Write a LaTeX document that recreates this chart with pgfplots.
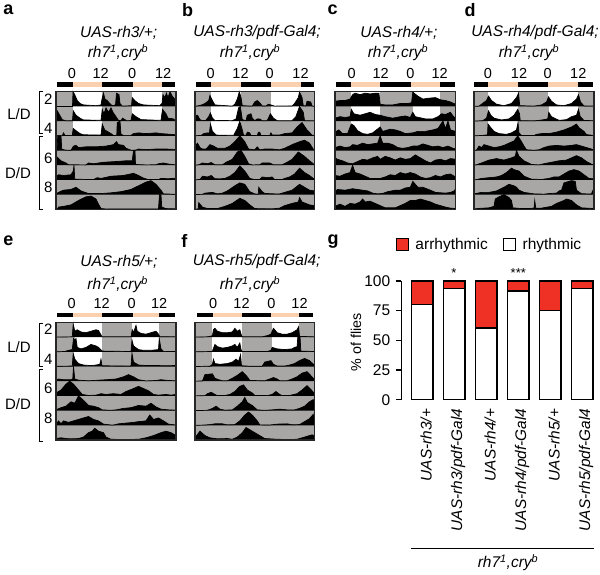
\documentclass[border=0pt]{standalone}
\usepackage{fontspec}
\setmainfont{Liberation Sans}
\usepackage{pgfplots}
\pgfplotsset{compat=1.18}
\definecolor{actgrey}{HTML}{A9A6A6}
\definecolor{peach}{HTML}{FAD0AE}
\definecolor{arrred}{HTML}{EE3124}
\newcommand{\fs}[1]{\fontsize{#1}{#1}\selectfont}
% one row of an actogram: base level, then (hour, height 0-10)
\newcommand{\actrow}[2]{\addplot[fill=black,draw=black,line width=.7pt,y filter/.expression={y+#1}] coordinates {(0,0) #2 (48,0)};}
% lights-on part of a row
\newcommand{\lit}[3]{\addplot[fill=white,draw=none,y filter/.expression={y+#1}] coordinates {(#2,0)(#2,10)(#3,10)(#3,0)};}
% light/dark bar above a panel
\newcommand{\daybar}[6]{%
  \addplot[fill=black,draw=none] coordinates {(#1,83.5)(#1,86.3)(#6,86.3)(#6,83.5)};
  \addplot[fill=peach,draw=none] coordinates {(#2,83.5)(#2,86.3)(#3,86.3)(#3,83.5)};
  \addplot[fill=peach,draw=none] coordinates {(#4,83.5)(#4,86.3)(#5,86.3)(#5,83.5)};}
\pgfplotsset{
  acto/.style={
    scale only axis, height=117.6pt, xmin=0, xmax=48, ymin=0, ymax=80,
    anchor=south west, clip=false, axis on top,
    axis background/.style={fill=actgrey},
    axis line style={line width=1.1pt,black!85},
    major tick length=0pt, ytick=\empty,
    xticklabel pos=top, xticklabels={0,12,0,12},
    xticklabel style={font=\fs{14.5},yshift=10pt},
    yticklabel style={font=\fs{15},xshift=0pt},
  },
  rowticks/.style={ytick={15,35,55,75}, yticklabels={8,6,4,2}},
}
\begin{document}
\begin{tikzpicture}
\useasboundingbox (0pt,0pt) rectangle (600pt,574pt);

% ---- a
\begin{axis}[acto,rowticks,at={(56pt,364.7pt)},width=120pt,xtick={6.4,17.9,30.5,42.9}]
\lit{70}{6.7}{18.4}\lit{70}{30.3}{42.4}\lit{60}{6.7}{18.4}\lit{60}{30.3}{42.4}\lit{50}{6.7}{18.4}
\actrow{70}{(6.6,0)(6.8,10)(7.5,8)(8.5,4)(9.6,2)(11,1)(16,.5)(18,1)(18.4,5)(19,9)(19.6,5)(20.5,4)(21.5,2)(22.5,.5)(23.8,1)(24.2,9)(25.2,8)(25.6,2)(26.5,.2)(30.2,.5)(30.5,6)(31.5,4)(33,2)(35,1)(41.5,.5)(42.4,2)(42.8,8)(43.5,6)(44.2,9)(44.8,6)(45.6,10)(46.5,7)(47.5,5)(48,3)}
\actrow{60}{(0,4)(0.5,7)(1.5,4)(2.5,1)(4,.2)(6.6,.3)(6.9,7)(8,4)(9.6,2)(11,.8)(18,.5)(18.5,8)(19.2,5)(20,9)(21,6)(22,9)(22.8,6)(24,3)(25,.5)(26,.3)(26.6,2)(27.6,1)(28.5,.2)(30,.5)(30.5,5)(32,3)(34,1)(42,.5)(42.6,8)(44,5)(44.8,2)(47,1.5)}
\actrow{50}{(2.5,0)(3,2)(3.6,.2)(6.5,.3)(6.9,5)(8,3.5)(9.6,1.5)(11,.7)(18,.5)(18.5,8)(19.5,4)(20.5,3)(22,1.5)(23,.2)(24.3,.3)(24.5,9)(25.6,10)(26,1)(27,.3)(30,.3)(31,1.5)(33,2)(36,1.5)(40,2)(42,1.5)(46,1)(48,.7)}
\actrow{40}{(.4,0)(.7,10)(2,10)(2.3,1)(3.5,.3)(6,.2)(7,3)(8,3.5)(9,2)(12,2.5)(16,2.5)(20,3)(23,4)(24.2,6)(25,4)(27,3.5)(28,1.5)(30,.2)(32,.3)(33,1)(36,.6)(40,1)(44,1)(48,.7)}
\actrow{30}{(0,4)(.5,5.5)(2,3)(4,1.5)(5,.3)(12,.2)(13,1.5)(15,1)(19,2)(24,2.5)(28,3)(30.5,3)(31,10)(31.6,10)(31.8,.5)(36,.2)(40,.3)(41,1)(43,1.5)(45,.8)(48,.2)}
\actrow{20}{(0,2)(1,3.5)(3,3)(6,3.5)(6.9,6)(7.2,10)(7.5,.5)(15,.2)(16.5,1.5)(18,1)(22,2.5)(27,3)(31,4.5)(33,3)(35,1.2)(37,.2)(41,.3)(42,1)(45,.8)(48,1.2)}
\actrow{10}{(0,.5)(1,1.5)(3,3)(6,3.5)(8,5)(10,2.5)(13,.7)(18,.7)(22,1.2)(26,2)(30,3.5)(33,6)(36,8.5)(38,9.5)(40,7)(42,3)(43,.5)(48,.2)}
\actrow{0}{(.5,0)(1,1.5)(3,2)(6,3)(9,6)(12,8.5)(14,9)(16,7)(17,3.5)(18,.5)(20,.2)(41,.3)(41.4,10)(42,10)(42.3,1.5)(44,.5)(48,.3)}
\daybar{.4}{6.6}{18.4}{30.8}{42.4}{47.5}
\end{axis}

% ---- b
\begin{axis}[acto,at={(195pt,364.7pt)},width=119.5pt,xtick={6.3,18.3,30,42.4}]
\lit{70}{6.4}{18.4}\lit{70}{30.5}{42.4}\lit{60}{6.4}{18.4}\lit{60}{30.5}{42.4}\lit{50}{6.4}{18.4}
\actrow{70}{(2.7,1)(4,2)(5.5,4)(6,7.5)(7,4)(8,1)(15,.2)(16,1.5)(17,5)(17.8,10)(18.5,6)(19,.5)(23,.2)(24,3)(25,4)(26,2.5)(27,.3)(28.5,.3)(29.5,1.5)(30.5,1)(32,.2)(39,.3)(40,2)(41.5,6)(42,10)(43,6)(43.5,.5)(44.5,.3)(45,3.5)(46.5,3)(47,.3)}
\actrow{60}{(0,3.5)(1,4)(2,1)(3,.3)(4.3,.5)(5.5,3)(6.2,5.5)(7,2)(8,.5)(15,.3)(16.5,1.5)(17.5,9)(18.2,10)(19,1)(20.5,.3)(21,4)(22.5,5)(23,2)(24,.3)(25,1.5)(26,1.5)(27,.3)(29,.3)(30.3,5)(31.5,2)(33,.3)(39,.3)(40.5,3)(42,10)(43.5,6)(44,.3)(48,.2)}
\actrow{50}{(2.5,.3)(3.5,1.5)(5,2)(5.8,2)(6.2,8)(7,3)(8.5,.5)(15.5,.3)(17,5)(18,10)(19,4)(19.5,.5)(20.5,.3)(21,2.5)(22,2)(22.5,.2)(25,.3)(25.5,2.5)(26,2.5)(26.5,.2)(30,.2)(30.5,2)(31,.5)(34,.5)(36,1.5)(39,2)(41,6)(43,9)(45,4)(47,.5)(48,.2)}
\actrow{40}{(0,3)(1,5)(2,2)(3,1)(4.5,1)(6,4)(7.5,3)(9,1.5)(12,1.5)(14,3)(16,6)(18,10)(20,6)(21.5,1)(24,.5)(25,2.5)(26,.5)(28,1)(31,1)(34,.5)(36,1.5)(39,4)(42,6)(44,7)(46,5)(47.5,1)}
\actrow{30}{(1.5,.3)(3,1.5)(5,1)(6.5,1.8)(8,.3)(11,.3)(12.5,2)(15,4)(17,9)(18.5,10)(20,6)(21.5,1)(23,.2)(26,.3)(27,1.5)(30,1.5)(31.5,.3)(35,.3)(37,2)(39,4)(41.5,9)(44,6)(46,3)(47.5,1)}
\actrow{20}{(2,.3)(3,2.5)(5,2)(6.5,3)(8,.8)(10,.7)(12,1)(14,2.5)(16,5)(18,9.5)(20,6)(22,1)(24,.2)(26,.3)(27,2)(29,1.5)(31,2)(32,.3)(35,.3)(36,1)(38,2)(40,4)(42,8)(44,5)(46,3)(47.5,1)}
\actrow{10}{(3,.2)(4,1)(7,1.5)(9,.5)(11,1)(13,2.5)(16,6)(18,8)(20,7)(22,2)(24,.5)(25.4,.2)(25.6,5)(27,2)(28,.8)(32,.5)(34,.5)(36,1.5)(39,3)(42,7)(44,5)(46,3)(48,2.5)}
\actrow{0}{(1.3,.3)(1.5,4.5)(3,1.5)(5,.5)(9,.5)(12,2)(15,4)(18,7.5)(20,6)(22,3)(24,.5)(31,.3)(34,.8)(36,2.5)(39,4)(41.5,5)(42,8)(43,5)(46,3)(48,2.5)}
\daybar{.5}{6.4}{18.3}{30.5}{42.4}{47.9}
\end{axis}

% ---- c
\begin{axis}[acto,at={(335pt,364.7pt)},width=120.5pt,xtick={6.6,18.2,30,41.7}]
\lit{70}{6.4}{18}\lit{70}{31}{42}\lit{60}{6.4}{18}\lit{60}{31}{42}\lit{50}{6.4}{18}
\actrow{70}{(0,3.5)(2,4)(4,4)(6,5)(7,8)(8,9)(10,8)(12,9)(14,8.5)(16,9)(17.5,9)(18,1.5)(20,1)(23,1)(26,2)(29,2)(30.5,2.5)(31,10)(31.5,9)(33,7)(35,5)(37,5.5)(40,6)(42,4.5)(44,4)(46,3)(48,1.5)}
\actrow{60}{(0,2)(2,3)(4,2.5)(6,3)(6.5,8)(7.5,5)(10,4)(12,5)(14,6)(16,4.5)(18,4)(20,3)(23,2)(26,3)(28,3.5)(30,2.5)(31,6)(32,3)(36,1.5)(39,1.5)(41,3)(42.5,5)(44,4.5)(46,6)(47,3.5)(48,2)}
\actrow{50}{(0,2.5)(1.5,4)(3,1.5)(5,1.5)(6.5,8)(7.5,7)(9,3.5)(11,1.5)(13,1)(15,2)(16.5,4)(18,6)(19,3)(22,4.5)(24,4)(26,3)(28,1.5)(31,2)(33,3)(36,3)(39,4)(41,5)(43,10)(44,5)(45,10)(46,4)(48,3)}
\actrow{40}{(0,2)(2,3)(4,2)(6,2.5)(7,4)(9,3.5)(11,5)(13,4)(15,4.5)(17,5)(18,10)(19,5)(21,5)(23,4)(25,2)(27,1.5)(29,2)(31,3)(33,3)(35,4.5)(37,3.5)(39,2.5)(41,3)(43,2)(45,3)(47,1.5)(48,1)}
\actrow{30}{(0,5)(1,4)(3,3)(5,1.5)(7,1)(9,2.5)(11,4)(13,3.5)(15,5)(17,6)(18,4)(20,6)(22,5)(24,3.5)(26,5)(28,4)(30,4.5)(32,7)(34,5)(36,3)(38,1.5)(40,3.5)(42,4)(44,3)(46,4.5)(48,4)}
\actrow{20}{(0,3)(2,2.5)(4,4)(6,5)(7,10)(8,5)(10,4)(12,2.5)(14,1)(18,1)(20,2)(22,3.5)(24,3)(26,5)(28,4)(30,5)(32,4)(34,2)(36,1)(38,1.5)(40,3)(42,2)(44,3.5)(46,4)(48,2)}
\actrow{10}{(0,2)(1,3.5)(4,3)(7,4)(9,3.5)(11,3)(13,2.5)(15,1)(17,.5)(19,.8)(21,2)(24,3)(26,3)(28,4.5)(30,5)(31,9)(33,5)(35,5)(38,3)(40,1.5)(44,1)(46,1.5)(47.5,2.5)(48,4)}
\actrow{0}{(0,2)(2,3.5)(4,2)(6,4)(8,3.5)(10,5)(11,7)(12,5)(14,5.5)(16,4)(18,2.5)(20,1)(24,1)(26,2.5)(28,4)(30,6)(32,6)(34,7)(36,6)(38,5)(40,3.5)(42,2.5)(44,1.5)(46,.8)(48,.5)}
\daybar{.2}{6.4}{18}{30.3}{42}{47.7}
\end{axis}

% ---- d
\begin{axis}[acto,at={(474pt,364.7pt)},width=120pt,xtick={5.6,18,29.5,41.7}]
\lit{70}{5.7}{17.5}\lit{70}{29.7}{41.5}\lit{60}{5.7}{17.5}\lit{60}{29.9}{41.5}\lit{50}{5.7}{17.5}
\actrow{70}{(2,.2)(3,1.5)(5,4)(5.8,7)(7,4)(9,1.5)(12,.5)(15,2)(17,6)(17.8,9)(18.3,.5)(24,.2)(27,1)(29,3)(29.8,6.5)(31,3.5)(33,1)(36,.5)(39,2)(41,5)(41.8,8)(42.6,3)(44,.3)(48,.2)}
\actrow{60}{(3.5,.3)(5,2)(5.8,7)(6.7,4)(8,2)(11,.8)(14,1.5)(16,4)(17.5,8)(18.2,5)(18.5,.3)(24,.2)(26,.5)(28,1)(29.5,1.5)(29.9,6)(31,3)(34,.5)(37,1)(39,3)(41,4)(41.8,8)(42.5,3)(44,.4)(48,.3)}
\actrow{50}{(3,.2)(4.5,.5)(5.4,.5)(5.6,8)(6.5,6)(8,3)(10,1.5)(13,1)(15,2)(17,4)(17.6,9)(18,2)(19,.2)(24,.2)(25,1)(27,1.5)(30,1.5)(33,2.5)(36,4)(39,6)(41,8)(42,5.5)(44,3)(45,.8)(48,.2)}
\actrow{40}{(1,.3)(2,3)(3,2)(4,4)(6,3)(8,2)(10,2.5)(12,3.5)(14,5)(16,6.5)(17.5,10)(19,6)(20,3)(21,.5)(24,.2)(26,.5)(28,2)(30,3)(33,3.5)(36,3)(39,3.5)(41,4)(44,2.5)(47,1)(48,.3)}
\actrow{30}{(1,.3)(3,1.5)(6,3.5)(9,4.5)(12,3.5)(15,5)(16.5,6)(17,10)(18,6)(20,3)(23,.5)(26,.2)(28,1)(31,2)(34,3)(37,3.5)(39,5)(41,6.5)(43,5)(45,2.5)(47,.7)(48,.3)}
\actrow{20}{(1,.2)(3,1)(6,1.5)(9,2)(11,3)(13,5)(15,8)(16,7)(18,6)(20,2.5)(23,.5)(27,.3)(30,1)(32,2)(34,2)(36,4)(38,6)(40,7)(42,6)(44,3.5)(46,1)(48,.7)}
\actrow{10}{(0,.5)(3,1.5)(6,1.5)(9,2.5)(12,5)(14,7)(16,6)(17,5)(18,3)(20,1.5)(24,.5)(28,.3)(30,.7)(33,1)(34,2.5)(35,3)(36,8)(39,9.5)(40.5,9)(41,3)(43,.6)(47,.4)(47.4,2.5)(47.8,.5)}
\actrow{0}{(0,.3)(3,.7)(6,1)(8,2)(8.5,7)(10,8.5)(12,10)(14,8)(15,6)(15.5,1)(19,.5)(22,.5)(24,.8)(24.3,6)(24.7,.8)(27,.8)(31,2)(33,4)(36,6)(37,7)(39,6)(41,3)(43,1)(48,.5)}
\daybar{-.1}{5.7}{17.5}{29.7}{41.5}{47.7}
\end{axis}

% ---- e
\begin{axis}[acto,rowticks,at={(56pt,134pt)},width=120pt,xtick={6.3,18.3,30.3,41.3}]
\lit{70}{6.7}{18.3}\lit{70}{30.3}{41.3}\lit{60}{7.6}{18.3}\lit{60}{30.3}{41.2}\lit{50}{6.9}{18.3}
\actrow{70}{(6.5,.2)(6.9,9)(7.5,4)(8.5,5)(10,3.5)(12,3)(14,4)(16,5)(17,4.5)(18,1.5)(18.4,.2)(30,.2)(30.5,5)(31,3)(32,8)(32.5,4)(34,2.5)(36,2)(38,3)(40,4)(41,2)(41.5,.3)(48,.2)}
\actrow{60}{(3.5,.2)(5,1)(6.5,1.5)(7,9)(7.4,8)(8,9)(8.5,3)(10,2)(12,3)(14,5)(16,4)(17,3)(18.5,.5)(30,.2)(30.4,8)(31,4)(33,1.5)(35,1)(38,1)(41,1.5)(41.3,9)(42,2)(43,.3)(48,.2)}
\actrow{50}{(0,.2)(6.5,.3)(6.9,9)(7.5,5)(9,2)(11,1)(14,.6)(16,1)(17.5,1.5)(18,5)(18.4,.5)(30,.3)(30.4,9)(31,3)(33,1)(36,.7)(40,.7)(44,.5)(48,.7)}
\actrow{40}{(0,.3)(1,1.5)(3,1)(6,1)(6.7,1.5)(7,10)(7.5,1.5)(9,.7)(13,.3)(17,.7)(20,1)(24,1.5)(27,3)(29,4.5)(31,3)(33,1)(36,.2)(40,.5)(42,1)(45,.5)(48,.3)}
\actrow{30}{(0,2)(2,4)(4,8)(5.5,10)(7,8)(9,4)(10.5,1)(13,.3)(16,.5)(18,1.5)(20,1)(23,1.5)(26,1)(28,3)(31,5)(33,6.5)(35,5)(37,3.5)(39,1)(41,.5)(44,1)(46,.5)(48,1)}
\actrow{20}{(0,.5)(2,2)(4,3)(6,6)(7.5,5)(9,10)(11,7)(13,3.5)(15,3)(17,2)(18.5,.5)(22,.2)(24,.5)(27,1.5)(30,2)(33,3.5)(36,3)(38,5)(40,2.5)(42,1)(45,.5)(48,.3)}
\actrow{10}{(0,.3)(1,3)(2,1)(3,3)(5,2)(7,3)(9,4)(11,5)(13,6)(15,4)(17,3)(19,.8)(22,.2)(23,.2)(25,1)(28,1.5)(31,2)(33,2.5)(36,3)(37.5,7)(39,4)(41,5)(43,3)(45,.8)(48,.2)}
\actrow{0}{(0,1)(2,1.5)(4,1)(6,.8)(9,1)(11,2)(13,5)(14.5,6)(15.5,8)(17,6)(19,5)(20,2)(22,.5)(28,.3)(33,.5)(36,1.5)(39,3)(42,5)(44,6)(46,5)(48,3)}
\daybar{.4}{6.9}{18.3}{30.9}{41.3}{47.7}
\end{axis}

% ---- f
\begin{axis}[acto,at={(195pt,134pt)},width=119.5pt,xtick={7.3,18.7,30.7,42}]
\lit{70}{7}{18.7}\lit{70}{30.8}{41.8}\lit{60}{7}{18.7}\lit{60}{30.8}{41.8}\lit{50}{7}{18.7}
\actrow{70}{(5,.2)(6,.5)(7,1)(7.4,5)(8,6)(9,4)(11,3)(13,3)(15,3.5)(16,6)(17,4)(18,5)(18.7,1)(19,.2)(27,.2)(29,1)(30.5,2)(31.5,6)(33,3)(35,2)(37,2)(39,3)(41,5)(41.6,7)(42,.5)(48,.2)}
\actrow{60}{(7,.2)(7.2,1.5)(8,5)(9,3.5)(11,2.5)(13,3)(15,4)(16,5)(17,3)(18,6)(18.5,1.5)(19,.2)(29,.2)(30.5,1)(31,3)(33,2)(36,1.5)(39,2)(40,3)(41,3.5)(41.3,10)(42.2,10)(42.5,.5)(48,.2)}
\actrow{50}{(6,.2)(7,1.5)(7.4,5)(8,2)(10,1.5)(13,2)(15,3)(16.5,5)(17.5,3.5)(18.3,8)(18.7,.5)(22,.2)(27,.2)(28,3)(30.5,4)(31.5,1.5)(33,.3)(36,.3)(38,1)(40,2)(42,4)(44,5.5)(46,4)(48,.8)}
\actrow{40}{(3,.2)(4,4.5)(7,5)(8,2)(9.5,1)(11,.3)(13,.3)(15,2)(17,4)(19,6.5)(21,3)(22,.5)(28,.3)(30,1.5)(31.5,2.5)(33,1.5)(34,.3)(37,.3)(39,1.5)(41,3)(43,5.5)(45,6.5)(47,3)(48,1)}
\actrow{30}{(4,.2)(5,1.5)(6.5,2.5)(8,1)(9,.2)(12,.3)(14,1)(16,3)(18,6.5)(19.5,7.5)(21,4)(23,2)(24,.3)(29,.2)(31,1)(32.5,3)(34,1)(35,.2)(38,.3)(41,1.5)(43,4)(45,7)(47,3.5)(48,1.5)}
\actrow{20}{(5,.2)(7,1.5)(8.5,3)(10,1)(12,.3)(15,.5)(17,3)(19,6)(20,9)(21,5.5)(23,3.5)(25,.5)(28,.2)(31,.5)(34,1)(37,.5)(40,.5)(42,1.5)(44,3)(46,6)(47.5,7.5)(48,3)}
\actrow{10}{(4,.2)(6,.5)(8,1)(11,1)(13,.3)(16,.5)(18,3)(20,7)(21.5,9)(23,7)(25,3)(26,.3)(30,.2)(33,.8)(37,1)(39,.4)(42,.5)(44,2.5)(46,4.5)(47.5,7.5)(48,3)}
\actrow{0}{(0,1.5)(2,6)(4,3)(6,1.5)(9,.8)(13,1)(15,.5)(17,2)(19,5)(20.5,8.5)(22,7)(24,5)(26,3)(28,1)(33,.5)(38,.3)(41,.5)(43,1.5)(45,2.5)(47,3.5)(48,3)}
\daybar{.7}{7.1}{18.7}{30.7}{41.6}{47.3}
\end{axis}

% ---- g
\begin{axis}[
  at={(401.3pt,174.3pt)}, anchor=south west, scale only axis,
  width=193.6pt, height=118.7pt,
  xmin=-.65, xmax=5.4, ymin=0, ymax=100,
  axis y line=left, axis x line*=bottom,
  axis line style={-,line width=1.1pt},
  x axis line style={draw=none},
  ybar stacked, bar width=21.7pt,
  ytick={0,25,50,75,100}, xtick={0,1,2,3,4,5},
  xticklabels={UAS-rh3/+,UAS-rh3/pdf-Gal4,UAS-rh4/+,UAS-rh4/pdf-Gal4,UAS-rh5/+,UAS-rh5/pdf-Gal4},
  xticklabel style={rotate=90,anchor=east,font=\fs{15.4}\itshape,yshift=-4pt},
  yticklabel style={font=\fs{15.5},xshift=-2pt},
  /pgf/number format/assume math mode=true,
  tick align=outside, tick style={black,line width=1.1pt},
  major tick length=5.6pt, x tick style={draw=none},
  clip=false, reverse legend,
  legend style={draw=none,fill=none,at={(-.03,1.31)},anchor=west,legend columns=2,font=\fs{15.5},inner sep=0pt,
    /tikz/every odd column/.append style={column sep=4.5pt},
    /tikz/every even column/.append style={column sep=13pt}},
  legend image code/.code={\draw[#1] (0pt,-6pt) rectangle (12pt,6pt);},
]
\addplot[fill=white,draw=black,line width=1.3pt] coordinates {(0,80)(1,93.5)(2,60.5)(3,91.5)(4,75)(5,93.5)};
\addplot[fill=arrred,draw=black,line width=1.3pt] coordinates {(0,20)(1,6.5)(2,39.5)(3,8.5)(4,25)(5,6.5)};
\addlegendentry{rhythmic}
\addlegendentry{arrhythmic}
\end{axis}

% ---- text
\def\P#1#2#3{\node[font=\fs{18}\bfseries] at (#1pt,#2pt) {#3};}
\P{8.3}{564}{a}\P{187.7}{564}{b}\P{332.7}{564}{c}\P{470}{564}{d}\P{8.3}{333.3}{e}\P{184.3}{333.3}{f}\P{333}{332.3}{g}
\def\T#1#2#3{\node[font=\fs{15.5}\itshape] at (#1pt,#2pt) {#3};}
\def\G{rh7\textsuperscript{1},cry\textsuperscript{b}}
\T{118.7}{541.3}{UAS-rh3/+;}\T{118}{521}{\G}
\T{257}{541.3}{UAS-rh3/pdf-Gal4;}\T{250}{521}{\G}
\T{399}{541.3}{UAS-rh4/+;}\T{398}{521}{\G}
\T{535}{541.3}{UAS-rh4/pdf-Gal4;}\T{529}{521}{\G}
\T{119}{312.3}{UAS-rh5/+;}\T{117.7}{289.7}{\G}
\T{256.7}{312.3}{UAS-rh5/pdf-Gal4;}\T{250}{289.7}{\G}
\T{508}{11}{\G}
\def\L#1#2#3{\node[font=\fs{15}] at (#1pt,#2pt) {#3};}
\L{19}{460.3}{L/D}\L{18}{401.3}{D/D}\L{19}{227.3}{L/D}\L{18}{170}{D/D}
% brackets
\draw[line width=.8pt] (43pt,482.3pt)--(39.3pt,482.3pt)--(39.3pt,441pt)--(43pt,441pt);
\draw[line width=.8pt] (43pt,438pt)--(39.3pt,438pt)--(39.3pt,364.7pt)--(43pt,364.7pt);
\draw[line width=.8pt] (43pt,250.7pt)--(39.3pt,250.7pt)--(39.3pt,208pt)--(43pt,208pt);
\draw[line width=.8pt] (43pt,205pt)--(39.3pt,205pt)--(39.3pt,133pt)--(43pt,133pt);
% panel g extras
\draw[line width=.8pt] (411pt,25.7pt)--(594.3pt,25.7pt);
\node[font=\fs{13}] at (454pt,301pt) {*};
\node[font=\fs{13}] at (518.3pt,301pt) {***};
\node[font=\fs{14.3},rotate=90] at (356pt,232pt) {\% of flies};
\end{tikzpicture}
\end{document}
